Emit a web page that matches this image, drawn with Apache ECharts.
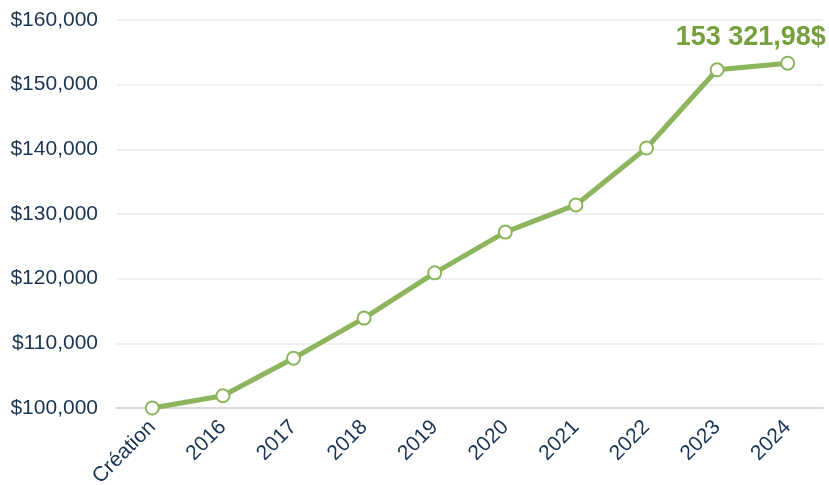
<!DOCTYPE html>
<html><head><meta charset="utf-8">
<script src="https://cdn.jsdelivr.net/npm/echarts@6/dist/echarts.min.js"></script>
<style>html,body{margin:0;padding:0;background:#fff}#c{width:829px;height:485px}</style>
</head><body><div id="c"></div>
<script>
const categories = ['Création','2016','2017','2018','2019','2020','2021','2022','2023','2024'];
const values = [100000, 101900, 107700, 113900, 120900, 127200, 131400, 140200, 152300, 153321.98];
const finalLabel = '153 321,98$';
const yTicks = {min: 100000, max: 160000, interval: 10000};

const chart = echarts.init(document.getElementById('c'));
const data = values.map((v, i) => i === values.length - 1 ? {
  value: v,
  label: {show: true, position: 'top', offset: [-37, 0], formatter: finalLabel,
    color: '#76a03c', fontSize: 27, fontWeight: 'bold', fontFamily: 'Liberation Sans'}
} : v);
chart.setOption({
  animation: false,
  grid: {left: 117, right: 6, top: 20, bottom: 77, outerBoundsMode: 'none', containLabel: false},
  xAxis: {
    type: 'category', data: categories, boundaryGap: true,
    axisLine: {lineStyle: {color: '#d9d9d9', width: 2}},
    axisTick: {show: false},
    axisLabel: {rotate: 45, color: '#1a3553', fontSize: 21, fontFamily: 'Liberation Sans', margin: 16, interval: 0}
  },
  yAxis: {
    type: 'value', min: yTicks.min, max: yTicks.max, interval: yTicks.interval,
    axisLine: {show: false}, axisTick: {show: false},
    splitLine: {lineStyle: {color: '#efefef', width: 2}},
    axisLabel: {color: '#1a3553', fontSize: 21, fontFamily: 'Liberation Sans', margin: 19,
      formatter: v => '$' + v.toLocaleString('en-US')}
  },
  series: [{
    type: 'line', data: data,
    lineStyle: {color: '#8db55e', width: 5},
    itemStyle: {color: '#ffffff', borderColor: '#8db55e', borderWidth: 2},
    symbol: 'circle', symbolSize: 13, showAllSymbol: true
  }]
});
</script></body></html>
